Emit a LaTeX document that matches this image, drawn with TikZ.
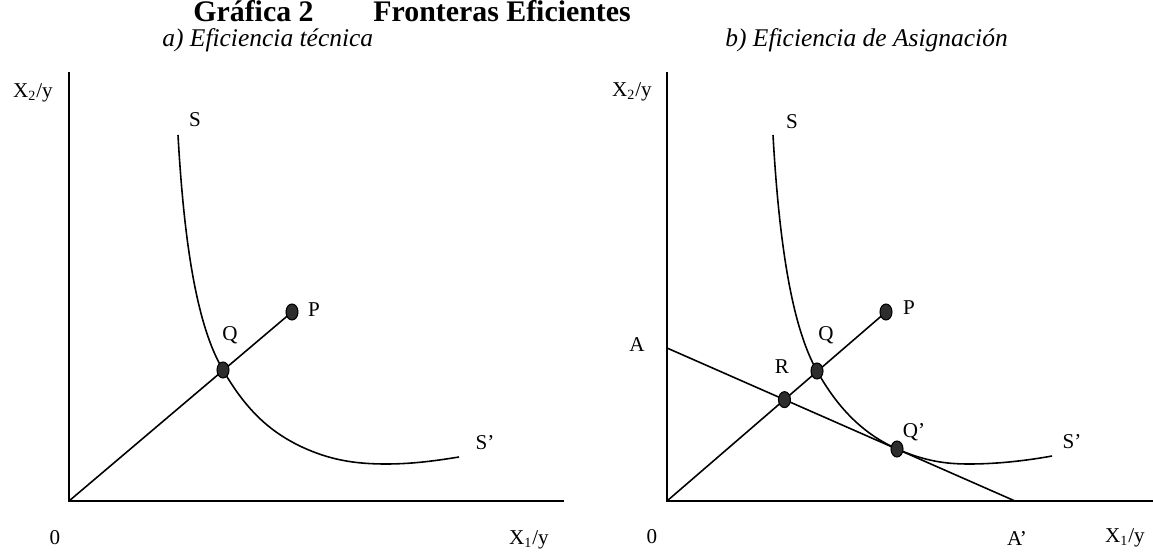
\documentclass[tikz,border=0pt]{standalone}
\usepackage{fontspec}
\setmainfont{Liberation Serif}
\usetikzlibrary{shapes.geometric}
\definecolor{dotGray}{RGB}{45,45,45}
\tikzset{
  axis/.style={line width=1.1pt, black},
  isoq/.style={line width=0.9pt, black},
  ray/.style={line width=0.9pt, black},
  punto/.style={ellipse, draw=black, fill=dotGray, line width=0.6pt, inner sep=0pt,
                minimum width=2.4mm, minimum height=3.2mm},
  lbl/.style={font=\fontsize{12}{14}\selectfont, inner sep=0pt},
  ttl/.style={font=\fontsize{17}{20}\selectfont\bfseries, inner sep=0pt, anchor=base west},
  sub/.style={font=\fontsize{14.5}{17}\selectfont\itshape, inner sep=0pt, anchor=base west},
}

\begin{document}
\begin{tikzpicture}[x=0.2mm, y=-0.2mm]
    \useasboundingbox (0,0) rectangle (1153,555);
    \node[ttl] (t1) at (193,22) {Gráfica 2};
    \node[ttl] (t2) at (373,22) {Fronteras Eficientes};
    \node[sub] (sa) at (162,47) {a) Eficiencia técnica};
    \node[sub] (sb) at (725,47) {b) Eficiencia de Asignación};

    % a) eficiencia tecnica
    \coordinate (ytop1) at (69,72);
    \coordinate (o1)    at (69,501);
    \coordinate (xend1) at (564,501);
    \coordinate (p1)    at (292,312);
    \coordinate (q1)    at (223,370);
    \draw[axis] (ytop1) -- (o1) -- (xend1);
    \draw[isoq] (178,135) .. controls (185,260) and (200,331) .. (q1)
                .. controls (246,410) and (270,432) .. (302,447)
                .. controls (330,460) and (355,464) .. (386,464)
                .. controls (415,464) and (440,460) .. (459,457);
    \draw[ray] (o1) -- (p1);
    \node[punto] (dq1) at (q1) {};
    \node[punto] (dp1) at (p1) {};
    \node[lbl] (x2a) at (33,93)   {X\textsubscript{2}/y};
    \node[lbl] (sa1) at (195,120) {S};
    \node[lbl] (qa)  at (230,335) {Q};
    \node[lbl] (pa)  at (314,310) {P};
    \node[lbl] (sa2) at (485,443) {S'};
    \node[lbl] (za)  at (55,538)  {0};
    \node[lbl] (x1a) at (529,540) {X\textsubscript{1}/y};

    % b) eficiencia de asignacion
    \coordinate (ytop2) at (667,72);
    \coordinate (o2)    at (667,501);
    \coordinate (xend2) at (1153,501);
    \coordinate (p2)    at (886,312);
    \coordinate (a)     at (667,348);
    \coordinate (a2)    at (1015,501);
    \coordinate (q2)    at (817,371);
    \coordinate (qq)    at (897,449);
    \coordinate (r)     at (intersection of o2--p2 and a--a2);
    \draw[axis] (ytop2) -- (o2) -- (xend2);
    \draw[isoq] (773,135) .. controls (780,260) and (795,332) .. (q2)
                .. controls (840,412) and (866,435) .. (qq)
                .. controls (925,461) and (945,464) .. (969,464)
                .. controls (1000,464) and (1030,460) .. (1052,456);
    \draw[ray] (o2) -- (p2);
    \draw[ray] (a) -- (a2);
    \node[punto] (dr)  at (r)  {};
    \node[punto] (dq2) at (q2) {};
    \node[punto] (dqq) at (qq) {};
    \node[punto] (dp2) at (p2) {};
    \node[lbl] (x2b) at (632,92)   {X\textsubscript{2}/y};
    \node[lbl] (sb1) at (792,122)  {S};
    \node[lbl] (qb)  at (826,335)  {Q};
    \node[lbl] (pb)  at (909,308)  {P};
    \node[lbl] (rb)  at (782,367)  {R};
    \node[lbl] (qqb) at (914,432)  {Q'};
    \node[lbl] (sb2) at (1072,442) {S'};
    \node[lbl] (ab)  at (637,345)  {A};
    \node[lbl] (zb)  at (652,537)  {0};
    \node[lbl] (a2b) at (1017,538) {A'};
    \node[lbl] (x1b) at (1125,538) {X\textsubscript{1}/y};
\end{tikzpicture}
\end{document}
